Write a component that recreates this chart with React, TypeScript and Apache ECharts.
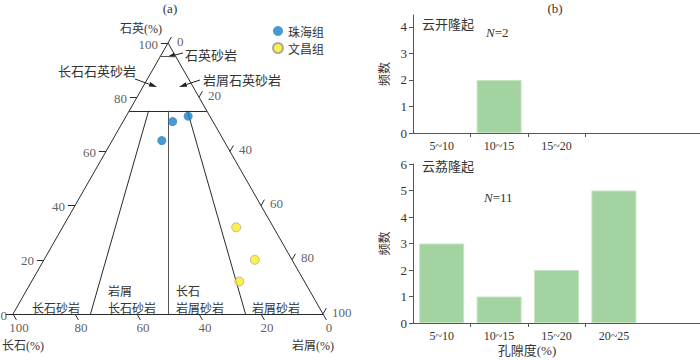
import React, { useEffect, useRef } from 'react';
import * as echarts from 'echarts';

// Ternary data: [Q (石英), F (长石), L (岩屑)] in %
const zhuhai = [[73, 7, 20], [71, 13, 16], [64, 20, 16]];
const wenchang = [[32, 12, 56], [20, 12, 68], [12, 21, 67]];
const ternaryTicks = [0, 20, 40, 60, 80, 100];
const quartzLines = [75, 95];
const feldsparShares = [0.75, 0.5, 0.25];

// Porosity histograms
const poreCats = ['5~10', '10~15', '15~20', '20~25'];
const yunkaiCats = ['5~10', '10~15', '15~20'];
const yunkaiFreq = [0, 2, 0];
const yunliFreq = [3, 1, 2, 5];

const SERIF = "'Liberation Serif', 'Noto Sans CJK SC', serif";
const CJK = "'Noto Sans CJK SC', sans-serif";
const INK = '#333';
const LINE = '#2a2a2a';

const tern = (q: number, f: number, l: number) => [l + q / 2, q];

function seg(a: number[], b: number[], color = LINE) {
  return { coords: [tern(a[0], a[1], a[2]), tern(b[0], b[1], b[2])], lineStyle: { color, width: 1, opacity: 1 } };
}

function arrow(x1: number, y1: number, x2: number, y2: number) {
  const ang = Math.atan2(y2 - y1, x2 - x1);
  const L = 8, W = 2.3;
  const bx = x2 - L * Math.cos(ang), by = y2 - L * Math.sin(ang);
  const px = -Math.sin(ang) * W, py = Math.cos(ang) * W;
  return [
    { type: 'line', shape: { x1, y1, x2: bx, y2: by }, style: { stroke: '#222', lineWidth: 1 } },
    { type: 'polygon', shape: { points: [[x2, y2], [bx + px, by + py], [bx - px, by - py]] }, style: { fill: '#222' } },
  ];
}

function txt(text: string, x: number, y: number, opts: any = {}) {
  return {
    type: 'text', x, y,
    style: {
      text, fontSize: opts.fontSize || 12, fontFamily: opts.fontFamily || CJK, fill: opts.fill || INK,
      textAlign: opts.align || 'left', textVerticalAlign: 'middle', fontStyle: opts.fontStyle || 'normal',
    },
  };
}

export default function App() {
  const ref = useRef<HTMLDivElement>(null);
  useEffect(() => {
    if (!ref.current) return;
    const chart = echarts.init(ref.current, null, { renderer: 'svg' });

    const segments: any[] = [
      seg([100, 0, 0], [0, 100, 0]),
      seg([0, 100, 0], [0, 0, 100]),
      seg([0, 0, 100], [100, 0, 0]),
    ];
    quartzLines.forEach((q) => segments.push(seg([q, 100 - q, 0], [q, 0, 100 - q], q === 95 ? '#555' : LINE)));
    feldsparShares.forEach((s) =>
      segments.push(seg([75, 25 * s, 25 * (1 - s)], [0, 100 * s, 100 * (1 - s)], s === 0.5 ? '#555' : LINE))
    );

    const ticks: any[] = [];
    const qLabels: any[] = [], lLabels: any[] = [], fLabels: any[] = [];
    ternaryTicks.forEach((t) => {
      const pq = tern(t, 100 - t, 0);
      ticks.push({ coords: [pq, [pq[0] - 2.3, pq[1]]] });
      qLabels.push(t === 0 ? { value: [pq[0], pq[1], String(t)], label: { distance: 6 } } : [pq[0], pq[1], String(t)]);
      const pl = tern(100 - t, 0, t);
      ticks.push({ coords: [pl, [pl[0] + 1.1, pl[1] + 2.2]] });
      lLabels.push([pl[0], pl[1], String(t)]);
      const pf = tern(0, t, 100 - t);
      ticks.push({ coords: [pf, [pf[0] + 1.1, pf[1] - 2.2]] });
      fLabels.push([pf[0], pf[1], String(t)]);
    });

    const labelSeries = (data: any[], position: string, distance: number, offset: number[]) => ({
      type: 'scatter', xAxisIndex: 0, yAxisIndex: 0, data, symbolSize: 0, silent: true, clip: false,
      label: {
        show: true, position, distance, offset, formatter: (p: any) => p.value[2],
        fontFamily: SERIF, fontSize: 13, color: INK,
      },
    });

    const barAxisY = (max: number, grid: number) => ({
      type: 'value', gridIndex: grid, min: 0, max, interval: 1,
      name: '频数', nameLocation: 'middle', nameGap: 24,
      nameTextStyle: { fontFamily: CJK, fontSize: 12, color: INK },
      axisLine: { show: true, lineStyle: { color: '#555' } },
      axisTick: { show: true, length: 4, lineStyle: { color: '#555' } },
      splitLine: { show: false },
      axisLabel: { fontFamily: SERIF, fontSize: 13, color: INK, margin: 6, showMaxLabel: max === 6 },
    });
    const barAxisX = (data: string[], grid: number) => ({
      type: 'category', gridIndex: grid, data,
      axisLine: { show: true, lineStyle: { color: '#555' } },
      axisTick: { show: true, length: 4, interval: (i: number) => i >= 1 && i <= 3, lineStyle: { color: '#555' } },
      axisLabel: { interval: 0, fontFamily: SERIF, fontSize: 12, color: INK, margin: 7 },
    });
    const barStyle = { color: '#a3d3a0', borderColor: '#c6e5c2', borderWidth: 1 };
    const hideZero = (v: number) => (v === 0 ? null : v);

    const graphic: any[] = [
      txt('(a)', 170, 8, { fontFamily: SERIF, fontSize: 13, align: 'center' }),
      txt('(b)', 555, 8, { fontFamily: SERIF, fontSize: 13, align: 'center' }),
      txt('石英(%)', 141, 29, { align: 'center', fontFamily: SERIF }),
      txt('长石(%)', 2, 346, { fontFamily: SERIF }),
      txt('岩屑(%)', 292, 346, { fontFamily: SERIF }),
      txt('石英砂岩', 185, 54, { fontSize: 13 }),
      txt('长石石英砂岩', 58, 70, { fontSize: 13 }),
      txt('岩屑石英砂岩', 203, 79, { fontSize: 13 }),
      txt('长石砂岩', 32, 307),
      txt('岩屑', 108, 290),
      txt('长石砂岩', 108, 307),
      txt('长石', 176, 290),
      txt('岩屑砂岩', 176, 307),
      txt('岩屑砂岩', 252, 307),
      ...arrow(183, 53, 167, 57),
      ...arrow(135, 79, 157, 87),
      ...arrow(200, 80, 179, 87),
      txt('云开隆起', 422, 23, { fontSize: 13 }),
      {
        type: 'text', x: 486, y: 32,
        style: {
          text: '{i|N}=2', fontSize: 13, fontFamily: SERIF, fill: INK, textVerticalAlign: 'middle',
          rich: { i: { fontStyle: 'italic', fontSize: 13, fontFamily: SERIF, fill: INK } },
        },
      },
      txt('云荔隆起', 422, 165, { fontSize: 13 }),
      {
        type: 'text', x: 484, y: 197,
        style: {
          text: '{i|N}=11', fontSize: 13, fontFamily: SERIF, fill: INK, textVerticalAlign: 'middle',
          rich: { i: { fontStyle: 'italic', fontSize: 13, fontFamily: SERIF, fill: INK } },
        },
      },
      txt('孔隙度(%)', 527, 350, { align: 'center', fontSize: 13, fontFamily: SERIF }),
    ];

    chart.setOption({
      animation: false,
      backgroundColor: '#fff',
      grid: [
        { left: 13, top: 43, width: 310, height: 271 },
        { left: 413, top: 15, width: 300, height: 118 },
        { left: 413, top: 164, width: 300, height: 159 },
      ],
      xAxis: [
        { type: 'value', gridIndex: 0, min: 0, max: 100, show: false },
        barAxisX([...yunkaiCats, '', ''], 1),
        barAxisX([...poreCats, ''], 2),
      ],
      yAxis: [
        { type: 'value', gridIndex: 0, min: 0, max: 100, show: false },
        barAxisY(4.45, 1),
        barAxisY(6, 2),
      ],
      legend: {
        data: ['珠海组', '文昌组'], left: 267, top: 20, orient: 'vertical', itemGap: 5,
        itemWidth: 10, itemHeight: 10, textStyle: { fontFamily: CJK, fontSize: 12, color: INK },
      },
      graphic,
      series: [
        { type: 'lines', coordinateSystem: 'cartesian2d', xAxisIndex: 0, yAxisIndex: 0, data: segments, silent: true, clip: false, lineStyle: { opacity: 1 } },
        { type: 'lines', coordinateSystem: 'cartesian2d', xAxisIndex: 0, yAxisIndex: 0, data: ticks, silent: true, clip: false, lineStyle: { color: LINE, width: 1, opacity: 1 } },
        labelSeries(qLabels, 'left', 10, [0, 1]),
        labelSeries(lLabels, 'right', 9, [0, -2]),
        labelSeries(fLabels, 'bottom', 7, [6, 0]),
        {
          name: '珠海组', type: 'scatter', xAxisIndex: 0, yAxisIndex: 0, symbolSize: 9,
          data: zhuhai.map((p) => tern(p[0], p[1], p[2])),
          itemStyle: { color: '#1a80c4' },
        },
        {
          name: '文昌组', type: 'scatter', xAxisIndex: 0, yAxisIndex: 0, symbolSize: 9,
          data: wenchang.map((p) => tern(p[0], p[1], p[2])),
          itemStyle: { color: '#fbee1c', borderColor: '#999', borderWidth: 0.8 },
        },
        { type: 'bar', xAxisIndex: 1, yAxisIndex: 1, data: yunkaiFreq.map(hideZero), barWidth: 45, itemStyle: barStyle },
        { type: 'bar', xAxisIndex: 2, yAxisIndex: 2, data: yunliFreq.map(hideZero), barWidth: 45, itemStyle: barStyle },
      ],
    });
    return () => chart.dispose();
  }, []);
  return <div ref={ref} style={{ position: 'absolute', left: 0, top: 0, width: 700, height: 360 }} />;
}
